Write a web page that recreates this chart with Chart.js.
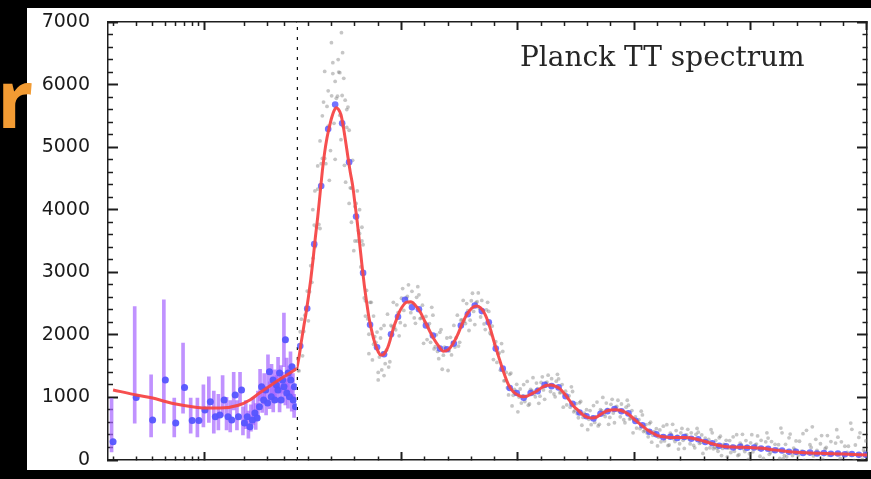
<!DOCTYPE html>
<html>
<head>
<meta charset="utf-8">
<script src="https://cdn.jsdelivr.net/npm/chart.js@4"></script>
<style>
  html, body { margin: 0; padding: 0; background: #000; }
  #wrap { width: 871px; height: 479px; }
</style>
</head>
<body>
<div id="wrap"><canvas id="mycanvas" width="871" height="479"></canvas></div>
<script>
// ---- data ----
var titleText = 'Planck TT spectrum';
var sideText = 'r';

// tick positions (the tick labels on x are cut off in the picture)
var logTicks = [2, 3, 4, 5, 6, 7, 8, 9, 10, 20, 30, 40];
var linTicks = [100, 200, 300, 400, 500, 600, 700, 800, 900, 1000, 1100, 1200, 1300,
  1400, 1500, 1600, 1700, 1800, 1900, 2000, 2100, 2200, 2300, 2400, 2500];
var yMajor = [0, 1000, 2000, 3000, 4000, 5000, 6000, 7000];
var splitL = 50;

// best fit curve (red), low-l part on the log axis
var fitLowL = [2, 3, 4, 5, 6, 8, 10, 13, 18, 22, 26, 32, 42, 50];
var fitLowD = [1120, 1040, 990, 935, 895, 850, 830, 830, 875, 960, 1070, 1200, 1360, 1460];

// best fit curve, high-l part on the linear axis
var fitHighL = [50, 60, 70, 80, 90, 100, 110, 120, 130, 140, 150, 160, 170, 180, 190, 200, 210, 220, 230, 240,
  250, 260, 270, 280, 290, 300, 310, 320, 330, 340, 350, 360, 370, 380, 390, 400, 410, 420, 430, 440,
  450, 460, 470, 480, 490, 500, 520, 540, 560, 580, 600, 620, 640, 660, 680, 700, 720, 740, 760, 780,
  800, 820, 840, 860, 880, 900, 920, 940, 960, 980, 1000, 1020, 1040, 1060, 1080, 1100, 1120, 1140, 1160, 1180,
  1200, 1220, 1240, 1260, 1280, 1300, 1320, 1340, 1360, 1380, 1400, 1420, 1440, 1460, 1480, 1500, 1520, 1540, 1560, 1580,
  1600, 1640, 1680, 1720, 1760, 1800, 1840, 1880, 1920, 1960, 2000, 2050, 2100, 2150, 2200, 2300, 2400, 2500];
var fitHighD = [1460, 1650, 1900, 2130, 2350, 2600, 2880, 3200, 3560, 3880, 4250, 4620, 4920, 5150, 5320, 5470, 5580, 5630, 5600, 5520,
  5330, 5090, 4840, 4600, 4390, 4100, 3800, 3470, 3120, 2800, 2530, 2280, 2100, 1940, 1820, 1730, 1680, 1680, 1720, 1790,
  1900, 2040, 2160, 2260, 2360, 2430, 2520, 2530, 2470, 2370, 2220, 2070, 1930, 1820, 1740, 1760, 1850, 1990, 2170, 2320,
  2420, 2460, 2430, 2320, 2120, 1860, 1620, 1390, 1200, 1090, 1040, 1010, 1020, 1060, 1100, 1150, 1190, 1200, 1180, 1140,
  1060, 960, 860, 790, 720, 680, 670, 690, 740, 780, 800, 805, 795, 765, 720, 650, 590, 530, 470, 430,
  390, 365, 360, 360, 340, 300, 255, 220, 207, 203, 198, 187, 162, 140, 123, 107, 96, 80];

// low-l points (2 <= l < 50) with their error bars
var lowL = [2, 3, 4, 5, 6, 7, 8, 9, 10, 11, 12, 13, 14, 15, 16, 17, 18, 19, 20, 21, 22, 23, 24, 25,
  26, 27, 28, 29, 30, 31, 32, 33, 34, 35, 36, 37, 38, 39, 40, 41, 42, 43, 44, 45, 46, 47, 48, 49];
var lowD = [290, 1000, 640, 1280, 590, 1160, 630, 630, 800, 930, 690, 720, 960, 690, 640, 1040, 690, 1120, 590, 690,
  530, 640, 750, 670, 850, 1170, 960, 1120, 910, 1410, 1010, 1280, 960, 1200, 1120, 1390, 960, 1280, 1170, 1920,
  1070, 1390, 1010, 1280, 1490, 960, 1170, 850];
var lowLo = [130, 590, 370, 590, 370, 750, 430, 370, 530, 600, 430, 480, 700, 480, 450, 800, 480, 880, 400, 500,
  350, 460, 560, 490, 650, 950, 760, 900, 720, 1180, 820, 1060, 770, 990, 920, 1160, 770, 1070, 970, 1490,
  880, 1170, 830, 1080, 1270, 780, 980, 680];
var lowHi = [980, 2450, 1360, 2560, 990, 1870, 990, 990, 1200, 1330, 1100, 1050, 1350, 1000, 950, 1400, 950, 1400, 850, 950,
  780, 880, 1000, 900, 1100, 1450, 1200, 1380, 1150, 1680, 1250, 1530, 1180, 1440, 1350, 1640, 1180, 1510, 1400, 2350,
  1290, 1630, 1220, 1500, 1730, 1170, 1380, 1050];

// binned high-l points (blue), l = 65, 95, ... 2495
var binStart = 65, binStep = 30;
var binD = [1820, 2420, 3450, 4380, 5290, 5680, 5380, 4760, 3890, 2990,
  2160, 1800, 1690, 2010, 2290, 2560, 2440, 2410, 2150, 1990,
  1780, 1770, 1860, 2150, 2330, 2470, 2380, 2200, 1780, 1460,
  1150, 1070, 995, 1070, 1100, 1200, 1180, 1160, 1020, 900,
  760, 700, 665, 740, 780, 815, 780, 745, 625, 555,
  450, 410, 365, 372, 352, 368, 340, 332, 288, 268,
  228, 220, 200, 210, 195, 200, 182, 180, 155, 152,
  130, 130, 112, 118, 104, 110, 98, 105, 92, 95,
  82, 85];

// unbinned points (grey cloud): l = 50, 60, ... 2500
var cloudAStart = 50, cloudStep = 10;
var cloudAD = [1610, 1425, 2250, 2055, 2400, 2225, 3105, 3225, 3410, 4330,
  3700, 4820, 4820, 5650, 4470, 5820, 5380, 5780, 6200, 5120,
  5330, 4440, 5640, 4350, 4790, 4050, 3500, 3620, 3720, 2590,
  2710, 2010, 2520, 1850, 1880, 1280, 1950, 1710, 1540, 2330,
  1570, 2130, 2115, 2480, 1985, 2585, 2390, 2585, 2800, 2355,
  2505, 2185, 2770, 2260, 2475, 2200, 1925, 2180, 2440, 1775,
  2000, 1620, 2085, 1675, 1785, 1430, 1960, 1870, 1805, 2315,
  1880, 2240, 2215, 2500, 2070, 2545, 2375, 2515, 2670, 2285,
  2385, 2085, 2520, 2030, 2140, 1840, 1560, 1710, 1860, 1265,
  1400, 1040, 1390, 1035, 1095, 770, 1135, 1025, 935, 1255,
  895, 1110, 1055, 1230, 905, 1240, 1120, 1230, 1355, 1095,
  1190, 1010, 1370, 1075, 1205, 1045, 880, 1025, 1170, 770,
  900, 675, 935, 680, 725, 485, 790, 685, 600, 925,
  570, 790, 735, 910, 570, 890, 750, 845, 955, 690,
  780, 595, 955, 655, 790, 635, 510, 645, 780, 455,
  565, 370, 605, 395, 430, 225, 480, 385, 305, 565,
  240, 405, 340, 470, 175, 435, 315, 395, 490, 260,
  345, 195, 505, 265, 400, 290, 180, 330, 485, 180,
  310, 140, 380, 185, 240, 50, 310, 220, 140, 405,
  85, 245, 180, 310, 10, 275, 130, 240, 385, 60,
  187, -25, 435, 90, 295, 145, -20, 245, 510, 20,
  250, -45, 415, 70, 165, -80, 300, 140, -5, 475,
  -60, 200, 65, 330, -40, 260, 10, 180, 390, -50,
  100, -60, 485, -20, 290, 70, -70, 220, 590, -85,
  240, -60, 435, 10, 130, -80];
// l = 55, 65, ... 2495
var cloudBStart = 55;
var cloudBD = [1430, 2050, 1665, 2315, 2700, 2690, 2840, 3755, 3720, 3765,
  4735, 5720, 4735, 5335, 4945, 6175, 4805, 5815, 5510, 5825,
  4710, 5315, 5270, 4345, 3345, 4100, 3665, 3085, 3440, 2545,
  2255, 2520, 1600, 1970, 2045, 1645, 1440, 2150, 1755, 1485,
  2150, 2520, 2080, 2355, 2195, 2740, 2150, 2615, 2510, 2695,
  2270, 2600, 2640, 2270, 1865, 2295, 2130, 1880, 2315, 1810,
  1735, 2040, 1450, 1805, 1950, 1745, 1680, 2150, 1955, 1820,
  2235, 2550, 2180, 2385, 2235, 2665, 2165, 2530, 2425, 2550,
  2175, 2400, 2375, 2005, 1605, 1890, 1700, 1435, 1735, 1270,
  1155, 1370, 865, 1130, 1210, 1005, 910, 1205, 1015, 875,
  1130, 1315, 1010, 1140, 1020, 1330, 970, 1245, 1185, 1300,
  1055, 1260, 1295, 1080, 845, 1100, 1000, 845, 1095, 790,
  740, 915, 555, 750, 805, 650, 565, 870, 685, 545,
  805, 1000, 695, 810, 680, 970, 595, 855, 785, 895,
  645, 845, 875, 665, 435, 690, 615, 500, 720, 470,
  430, 580, 285, 455, 500, 365, 290, 540, 370, 230,
  430, 570, 295, 380, 260, 505, 185, 400, 340, 435,
  235, 410, 445, 280, 105, 350, 295, 195, 435, 205,
  185, 355, 70, 250, 315, 190, 120, 370, 205, 70,
  270, 410, 135, 220, 100, 405, -60, 255, 175, 315,
  25, 290, 350, 120, -60, 250, 175, 25, 435, 70,
  50, 355, -80, 190, 305, 80, -40, 420, 115, -80,
  245, 530, -20, 155, -90, 390, -90, 200, 80, 295,
  -90, 270, 365, 25, -90, 220, 120, -80, 490, -10,
  -40, 360, -90, 160, 305];
// scattered outliers around the first peak
var cloudCL = [119, 128, 140, 150, 160, 170, 185, 199, 205, 215, 228, 235, 242, 247, 252, 258, 265,
  275, 285, 300, 310, 320, 330, 345, 360, 380, 400, 412, 425];
var cloudCD = [4000, 4300, 4700, 5100, 5500, 6210, 5900, 6670, 6350, 6050, 6400, 6190, 6830, 6510, 6100, 5750, 5600,
  4100, 3800, 3500, 4300, 4000, 3500, 2300, 1700, 2300, 1400, 2100, 1350];

// ---- build point lists ----
function pairs(xs, ys) {
  var out = [];
  for (var i = 0; i < ys.length; i++) out.push({ x: xs[i], y: ys[i] });
  return out;
}
function grid(start, step, ys) {
  var out = [];
  for (var i = 0; i < ys.length; i++) out.push({ x: start + step * i, y: ys[i] });
  return out;
}
var errBars = [];
for (var i = 0; i < lowL.length; i++) {
  errBars.push({ x: lowL[i], y: [lowLo[i], lowHi[i]] });
}

// ---- frame ticks: inward, long major, short minor ----
var frameColor = '#1e1e1e';
function frameGrid(isMajor, len, fromBorder) {
  var s = len / 2;
  return {
    drawOnChartArea: false,
    tickLength: -len,
    tickColor: frameColor,
    tickWidth: function(c) { return isMajor(c.tick.value) ? 2 : 1.5; },
    tickBorderDash: function(c) {
      if (isMajor(c.tick.value)) return [];
      return fromBorder ? [s, 100] : [0, s, s, 100];
    }
  };
}
function yIsMajor(v) { return yMajor.indexOf(v) >= 0; }
function logIsMajor(v) { return v === 10; }
function linIsMajor(v) { return v % 500 === 0; }
function setTicks(list) {
  return function(scale) {
    scale.ticks = list.map(function(v) { return { value: v }; });
  };
}
function flat(scale) { scale.height = 0; }

function xAxis(type, min, max, pos, ticks, isMajor, weight, stackWeight) {
  return {
    type: type,
    position: pos,
    min: min,
    max: max,
    offset: false,
    stack: pos === 'bottom' ? 'xb' : 'xt',
    stackWeight: stackWeight,
    weight: weight,
    afterBuildTicks: setTicks(ticks),
    afterFit: flat,
    ticks: { display: false },
    border: { color: frameColor, width: 1.5 },
    grid: Object.assign(frameGrid(isMajor, 8, pos === 'bottom'), { offset: false })
  };
}

var panelPlugin = {
  id: 'panel',
  beforeDraw: function(chart) {
    var ctx = chart.ctx;
    ctx.save();
    ctx.fillStyle = '#000';
    ctx.fillRect(0, 0, chart.width, chart.height);
    ctx.fillStyle = '#fff';
    ctx.fillRect(27, 8, chart.width - 27, 462);
    ctx.restore();
  },
  afterDraw: function(chart) {
    var ctx = chart.ctx;
    ctx.save();
    ctx.textBaseline = 'alphabetic';
    ctx.textAlign = 'left';
    ctx.fillStyle = '#262626';
    ctx.font = '28px "DejaVu Serif"';
    ctx.fillText(titleText, 520, 66);
    ctx.fillStyle = '#f29b33';
    ctx.font = 'bold 80px "Open Sans"';
    ctx.fillText(sideText, -3, 128);
    ctx.restore();
  }
};

var ctx = document.getElementById('mycanvas');
var chart = new Chart(ctx, {
  type: 'scatter',
  data: {
    datasets: [
      {
        type: 'line', label: 'fit low', xAxisID: 'xlog',
        data: pairs(fitLowL, fitLowD),
        borderColor: 'rgba(245,70,70,0.95)', borderWidth: 3,
        pointRadius: 0, cubicInterpolationMode: 'monotone'
      },
      {
        type: 'line', label: 'fit high', xAxisID: 'xlin',
        data: pairs(fitHighL, fitHighD),
        borderColor: 'rgba(245,70,70,0.95)', borderWidth: 3,
        pointRadius: 0, cubicInterpolationMode: 'monotone'
      },
      {
        label: 'binned', xAxisID: 'xlin',
        data: grid(binStart, binStep, binD),
        backgroundColor: 'rgba(80,80,255,0.8)', borderWidth: 0, pointRadius: 3.3
      },
      {
        label: 'low l', xAxisID: 'xlog',
        data: pairs(lowL, lowD),
        backgroundColor: 'rgba(85,85,255,0.95)', borderWidth: 0, pointRadius: 3.5
      },
      {
        type: 'bar', label: 'low l errors', xAxisID: 'xlog',
        data: errBars,
        backgroundColor: 'rgba(165,100,255,0.7)', barThickness: 3, borderWidth: 0
      },
      {
        type: 'line', label: 'split', xAxisID: 'xlin',
        data: [{ x: splitL, y: 0 }, { x: splitL, y: 7000 }],
        borderColor: '#111', borderWidth: 2.5, borderDash: [3, 7], pointRadius: 0
      },
      {
        label: 'cloud a', xAxisID: 'xlin',
        data: grid(cloudAStart, cloudStep, cloudAD),
        backgroundColor: 'rgba(120,120,120,0.42)', borderWidth: 0, pointRadius: 1.9
      },
      {
        label: 'cloud b', xAxisID: 'xlin',
        data: grid(cloudBStart, cloudStep, cloudBD),
        backgroundColor: 'rgba(120,120,120,0.42)', borderWidth: 0, pointRadius: 1.9
      },
      {
        label: 'cloud c', xAxisID: 'xlin',
        data: pairs(cloudCL, cloudCD),
        backgroundColor: 'rgba(120,120,120,0.42)', borderWidth: 0, pointRadius: 1.9
      }
    ]
  },
  options: {
    responsive: false,
    animation: false,
    devicePixelRatio: 1,
    layout: { padding: { left: 0, right: 3, top: 22, bottom: 19 } },
    plugins: { legend: { display: false }, tooltip: { enabled: false } },
    scales: {
      y: {
        type: 'linear', position: 'left', min: 0, max: 7000,
        afterFit: function(scale) {
          scale.width = 108;
          scale.paddingTop = 0;
          scale.paddingBottom = 0;
        },
        ticks: {
          stepSize: 200, autoSkip: false, padding: 28,
          color: '#1a1a1a', font: { family: 'DejaVu Sans', size: 19 },
          callback: function(v) { return yIsMajor(v) ? String(v) : ''; }
        },
        border: { color: frameColor, width: 1.5 },
        grid: frameGrid(yIsMajor, 10, false)
      },
      yr: {
        type: 'linear', position: 'right', min: 0, max: 7000,
        afterFit: function(scale) { scale.width = 0; },
        ticks: { stepSize: 200, display: false },
        border: { color: frameColor, width: 1.5 },
        grid: frameGrid(yIsMajor, 10, true)
      },
      xlog: xAxis('logarithmic', 1.83, 50, 'bottom', logTicks, logIsMajor, 0, 189),
      xlin: xAxis('linear', 50, 2500, 'bottom', linTicks, linIsMajor, 1, 571),
      xlogT: xAxis('logarithmic', 1.83, 50, 'top', logTicks, logIsMajor, 1, 189),
      xlinT: xAxis('linear', 50, 2500, 'top', linTicks, linIsMajor, 0, 571)
    }
  },
  plugins: [panelPlugin]
});
</script>
</body>
</html>
